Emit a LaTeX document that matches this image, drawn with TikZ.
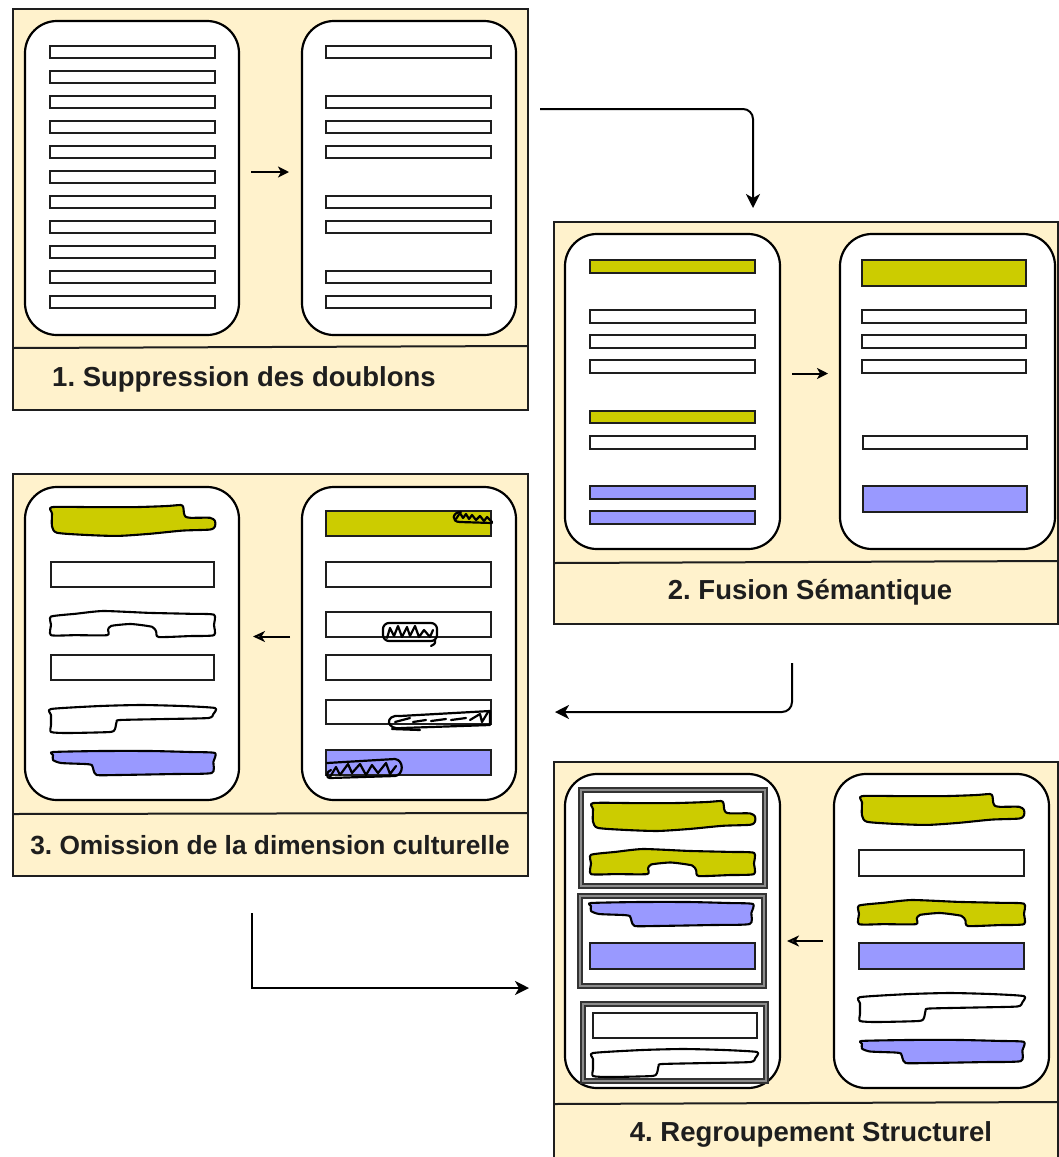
\documentclass[tikz,border=0pt]{standalone}
\usepackage{fontspec}
\setmainfont{Liberation Sans}
\usetikzlibrary{arrows.meta}

\definecolor{panelfill}{HTML}{FFF2CC}
\definecolor{barYellow}{HTML}{CCCC00}
\definecolor{barBlue}{HTML}{9999FF}
\definecolor{inkDark}{HTML}{1E1E1E}

\tikzset{
  panel/.style={draw=inkDark, line width=2pt, fill=panelfill, inner sep=0pt, outer sep=0pt, anchor=north west},
  doc/.style={draw=black, line width=2.2pt, fill=white, rounded corners=32pt, inner sep=0pt, outer sep=0pt, anchor=north west},
  groupbox/.style={draw=black!80, double=black!45, double distance=2.2pt, line width=1.8pt, fill=white, inner sep=0pt, outer sep=0pt, anchor=north west},
  bar/.style={draw=inkDark, line width=2.1pt},
  blob/.style={draw=black, line width=2.1pt, line join=round},
  scrib/.style={draw=black, line width=2.2pt, line join=round, line cap=round},
  divline/.style={draw=inkDark, line width=2pt},
  steplabel/.style={font=\fontsize{27.5}{32}\selectfont\bfseries, text=inkDark, inner sep=0pt},
  flow/.style={draw=black, line width=2pt, -{Stealth[length=14pt,width=14pt,inset=4pt]}},
  fwdarrow/.style={draw=black, line width=2pt, -{Stealth[length=11pt,width=11pt,inset=3pt]}},
  backarrow/.style={draw=black, line width=2pt, -{Stealth[open,length=12pt,width=11pt,inset=3.5pt]}},
}

% hand-drawn bar outlines: x, y, width, height, fill colour
\newcommand\tabblob[5]{%
  \begin{scope}[shift={(#1,#2)}, xscale=#3/100, yscale=#4/30]
    \filldraw[blob, fill=#5] plot[smooth cycle, tension=0.4] coordinates {
      (0,2) (25,2) (50,2) (70,1) (79,0) (80.5,2) (81,8) (82,11) (85,12) (97,12) (100,15)
      (100,20) (97,23) (80,24) (60,27) (40,29) (20,28) (3,26) (0,20) (0,8)};
  \end{scope}}
\newcommand\notchblob[5]{%
  \begin{scope}[shift={(#1,#2)}, xscale=#3/100, yscale=#4/28]
    \filldraw[blob, fill=#5] plot[smooth cycle, tension=0.35] coordinates {
      (0,6) (15,3) (32,0) (60,2) (85,3) (100,4) (100,15) (100,26) (85,27) (66,28)
      (64.5,22) (62,17) (49,14) (37,16) (35,20) (34.5,26) (15,26) (0,26) (0,15)};
  \end{scope}}
\newcommand\stepblob[5]{%
  \begin{scope}[shift={(#1,#2)}, xscale=#3/100, yscale=#4/28]
    \filldraw[blob, fill=#5] plot[smooth cycle, tension=0.35] coordinates {
      (0,4) (30,1) (55,0) (80,1) (100,3) (99,9) (96,13) (70,14) (42,15) (40,17)
      (39,24) (36,27) (10,28) (0,27) (0,20) (0,10)};
  \end{scope}}
\newcommand\dropblob[5]{%
  \begin{scope}[shift={(#1,#2)}, xscale=#3/100, yscale=#4/26]
    \filldraw[blob, fill=#5] plot[smooth cycle, tension=0.35] coordinates {
      (0,2) (30,1) (60,1) (85,2) (100,3) (99,12) (98,23) (75,24) (40,25) (27,25)
      (25,20) (24,15) (20,14) (5,13) (0,10) (0,5)};
  \end{scope}}

\begin{document}
\frenchspacing
\begin{tikzpicture}[x=1pt, y=-1pt]
\useasboundingbox (0,0) rectangle (1059,1157);
\clip (0,0) rectangle (1059,1157);

% ---------- panels ----------
\node[panel, minimum width=515pt, minimum height=401pt] (p1) at (13,9) {};
\node[panel, minimum width=504pt, minimum height=402pt] (p2) at (554,222) {};
\node[panel, minimum width=515pt, minimum height=402pt] (p3) at (13,474) {};
\node[panel, minimum width=504pt, minimum height=420pt] (p4) at (554,762) {};

\draw[divline] (13,348) -- (528,346);
\draw[divline] (554,563) -- (1058,561);
\draw[divline] (13,814) -- (528,813);
\draw[divline] (554,1104) -- (1058,1102);

% ---------- documents ----------
\node[doc, minimum width=214pt, minimum height=314pt] (d1a) at (25,21) {};
\node[doc, minimum width=214pt, minimum height=314pt] (d1b) at (302,21) {};
\node[doc, minimum width=215pt, minimum height=315pt] (d2a) at (565,234) {};
\node[doc, minimum width=215pt, minimum height=315pt] (d2b) at (840,234) {};
\node[doc, minimum width=214pt, minimum height=313pt] (d3a) at (25,487) {};
\node[doc, minimum width=214pt, minimum height=313pt] (d3b) at (302,487) {};
\node[doc, minimum width=215pt, minimum height=314pt] (d4a) at (565,774) {};
\node[doc, minimum width=215pt, minimum height=314pt] (d4b) at (834,774) {};

% ---------- 1. duplicates removed ----------
\foreach \k in {0,...,10}
  \draw[bar, fill=white] (50,{46+25*\k}) rectangle (215,{58+25*\k});
\foreach \k in {0,2,3,4,6,7,9,10}
  \draw[bar, fill=white] (326,{46+25*\k}) rectangle (491,{58+25*\k});

% ---------- 2. semantic merge ----------
\draw[bar, fill=barYellow] (590,260) rectangle (755,273);
\foreach \t in {310,335,360,436}
  \draw[bar, fill=white] (590,\t) rectangle (755,{\t+13});
\draw[bar, fill=barYellow] (590,411) rectangle (755,423);
\draw[bar, fill=barBlue] (590,486) rectangle (755,499);
\draw[bar, fill=barBlue] (590,511) rectangle (755,524);

\draw[bar, fill=barYellow] (862,260) rectangle (1026,286);
\foreach \t in {310,335,360}
  \draw[bar, fill=white] (862,\t) rectangle (1026,{\t+13});
\draw[bar, fill=white] (863,436) rectangle (1027,449);
\draw[bar, fill=barBlue] (863,486) rectangle (1027,512);

% ---------- 3. cultural dimension omitted ----------
\draw[bar, fill=barYellow] (326,511) rectangle (491,536);
\foreach \t/\b in {562/587,612/637,655/680,700/724}
  \draw[bar, fill=white] (326,\t) rectangle (491,\b);
\draw[bar, fill=barBlue] (326,750) rectangle (491,775);

% scribbled-out fragments
\draw[scrib] (461,512) .. controls (452,512) and (451,522) .. (460,522) -- (492,523);
\draw[scrib] (456,519) -- (460,513) -- (463,518) -- (466,514) -- (469,519) -- (472,515)
  -- (476,520) -- (480,516) -- (484,521) -- (487,517) -- (492,522);
\draw[scrib, rounded corners=6pt] (383,623) rectangle (437,641);
\draw[scrib] (435,640) .. controls (436,644) and (433,645) .. (431,646);
\draw[scrib] (387,638) -- (390,628) -- (394,636) -- (398,626) -- (402,637) -- (407,627)
  -- (410,636) -- (415,626) -- (419,637) -- (424,630) -- (430,637) -- (433,630);
\draw[scrib] (400,716) -- (490,711) -- (490,725) -- (402,728)
  .. controls (386,731) and (384,714) .. (400,716);
\draw[scrib] (392,729) -- (420,730);
\draw[scrib] (395,722) -- (410,718) (413,722) -- (426,720) (431,721) -- (446,719)
  (451,720) -- (466,718) (470,720) -- (480,714) -- (482,722) -- (488,712);
\draw[scrib] (327,763) -- (395,759) .. controls (404,760) and (404,775) .. (395,776)
  -- (330,778) .. controls (326,779) and (326,771) .. (331,770);
\draw[scrib] (330,777) -- (336,767) -- (340,775) -- (348,764) -- (352,773) -- (360,764)
  -- (366,775) -- (372,765) -- (378,773) -- (386,763) -- (390,774) -- (396,766);

\tabblob{52}{505}{163}{32}{barYellow}
\draw[bar, fill=white] (51,562) rectangle (214,587);
\notchblob{51}{611}{163}{26}{white}
\draw[bar, fill=white] (51,655) rectangle (214,680);
\stepblob{51}{705}{164}{28}{white}
\dropblob{53}{750}{162}{26}{barBlue}

% ---------- 4. structural grouping ----------
\tabblob{862}{794}{162}{32}{barYellow}
\draw[bar, fill=white] (859,850) rectangle (1024,876);
\notchblob{859}{900}{165}{26}{barYellow}
\draw[bar, fill=barBlue] (859,943) rectangle (1024,969);
\stepblob{860}{993}{164}{29}{white}
\dropblob{862}{1039}{162}{25}{barBlue}

\node[groupbox, minimum width=184pt, minimum height=96pt] (g1) at (581,790) {};
\node[groupbox, minimum width=184pt, minimum height=90pt] (g2) at (580,896) {};
\node[groupbox, minimum width=183pt, minimum height=77pt] (g3) at (583,1004) {};

\tabblob{593}{801}{162}{31}{barYellow}
\notchblob{591}{849}{163}{27}{barYellow}
\dropblob{591}{901}{162}{26}{barBlue}
\draw[bar, fill=barBlue] (590,943) rectangle (755,969);
\draw[bar, fill=white] (593,1013) rectangle (757,1038);
\stepblob{593}{1049}{164}{28}{white}

% ---------- captions ----------
\node[steplabel] (l1) at (244,379) {1. Suppression des doublons};
\node[steplabel] (l2) at (810,592) {2. Fusion Sémantique};
\node[steplabel, font=\fontsize{26.3}{30}\selectfont\bfseries] (l3) at (270,845) {3. Omission de la dimension culturelle};
\node[steplabel] (l4) at (811,1134) {4. Regroupement Structurel};

% ---------- arrows inside the panels ----------
\draw[fwdarrow, shorten <=12pt, shorten >=13pt] ([yshift=6pt]d1a.east) -- ([yshift=6pt]d1b.west);
\draw[fwdarrow, shorten <=12pt, shorten >=12pt] ([yshift=18pt]d2a.east) -- ([yshift=18pt]d2b.west);
\draw[backarrow, shorten <=12pt, shorten >=14pt] ([yshift=7pt]d3b.west) -- ([yshift=7pt]d3a.east);
\draw[backarrow, shorten <=11pt, shorten >=7pt] ([yshift=-10pt]d4b.west) -- ([yshift=-10pt]d4a.east);

% ---------- flow between the steps ----------
\coordinate (s12) at ([shift={(12,100)}]p1.north east);
\draw[flow, rounded corners=10pt] (s12) -| ([shift={(199,-14)}]p2.north west);
\coordinate (s23) at ([shift={(238,39)}]p2.south west);
\draw[flow, rounded corners=10pt] (s23) |- ([shift={(27,37)}]p3.east);
\coordinate (s34) at ([shift={(-19,37)}]p3.south);
\draw[flow] (s34) |- ([shift={(-25,16)}]p4.west);

\end{tikzpicture}
\end{document}
